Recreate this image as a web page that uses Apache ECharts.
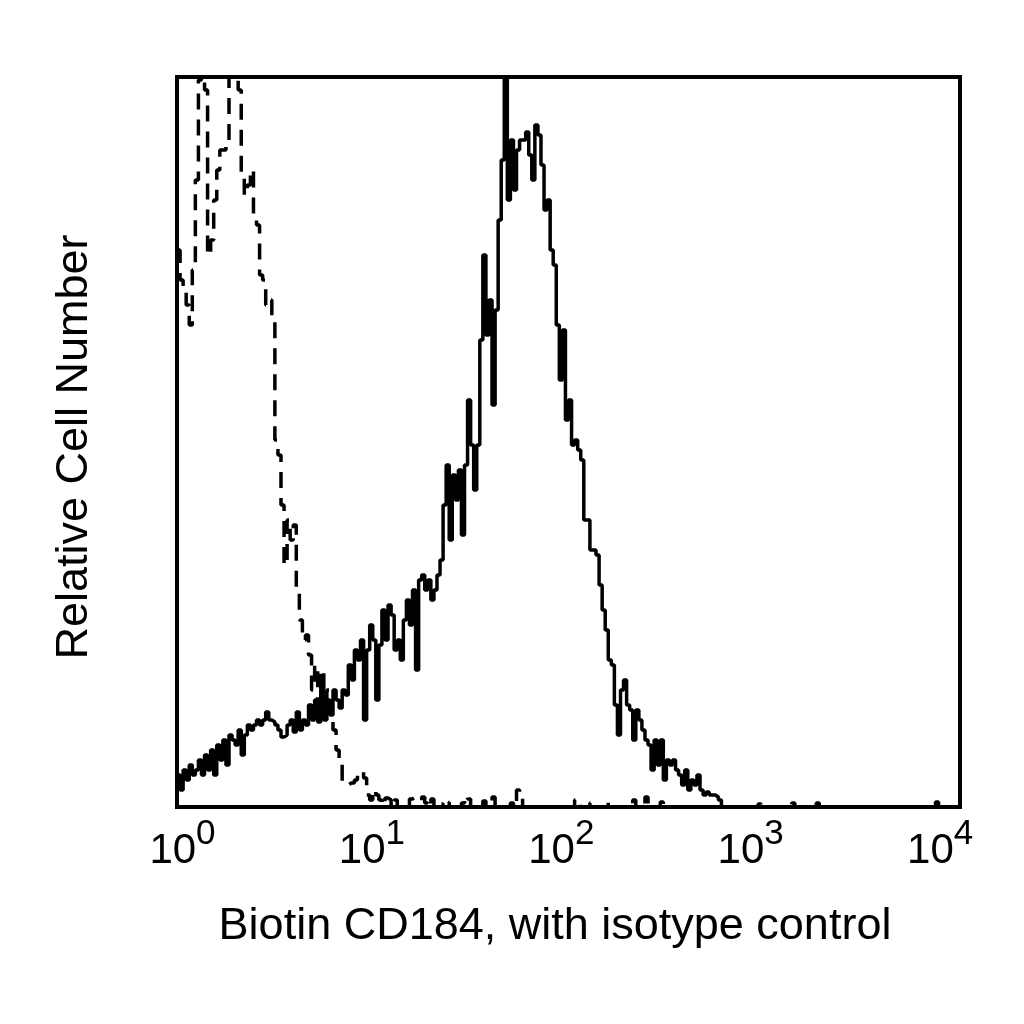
<!DOCTYPE html>
<html>
<head>
<meta charset="utf-8">
<script src="https://cdn.jsdelivr.net/npm/echarts@6/dist/echarts.min.js"></script>
<style>
  html, body { margin: 0; background: #fff; }
  #chart { width: 1024px; height: 1024px; }
</style>
</head>
<body>
<div id="chart"></div>
<script>
// 256 histogram channels spread over 4 log decades (10^0 .. 10^4)
const CHANNELS = 256;
const DECADES = [0, 1, 2, 3, 4];
const X_TITLE = "Biotin CD184, with isotype control";
const Y_TITLE = "Relative Cell Number";

// counts per channel
const cd184 = [
  32, 17, 37, 27, 42, 32, 37, 47, 32, 52, 37, 57, 32, 62, 47, 67,
  42, 72, 67, 62, 77, 52, 72, 82, 77, 82, 87, 82, 87, 95, 87, 85,
  82, 77, 70, 72, 82, 87, 75, 95, 77, 87, 82, 102, 87, 107, 85, 117,
  87, 107, 92, 117, 107, 99, 117, 112, 142, 127, 157, 147, 167, 87, 157, 182,
  167, 107, 162, 197, 167, 202, 192, 157, 167, 147, 187, 207, 182, 217, 137, 227,
  232, 217, 227, 207, 217, 232, 247, 302, 342, 267, 332, 307, 337, 272, 342, 407,
  362, 317, 362, 467, 552, 472, 507, 402, 497, 587, 647, 729, 607, 667, 617, 657,
  667, 667, 675, 652, 627, 682, 672, 642, 597, 607, 557, 542, 482, 427, 477, 387,
  407, 362, 367, 357, 347, 287, 287, 257, 257, 252, 222, 197, 177, 147, 142, 102,
  72, 117, 127, 102, 97, 67, 97, 87, 77, 67, 62, 37, 67, 42, 67, 27,
  47, 42, 47, 37, 32, 22, 37, 17, 27, 22, 32, 17, 12, 15, 12, 12,
  10, 7, 0, 0, 0, 0, 0, 0, 0, 0, 0, 0, 0, 0, 0, 0,
  0, 0, 0, 0, 0, 0, 0, 0, 0, 0, 0, 0, 0, 0, 0, 0,
  0, 0, 0, 0, 0, 0, 0, 0, 0, 0, 0, 0, 0, 0, 0, 0,
  0, 0, 0, 0, 0, 0, 0, 0, 0, 0, 0, 0, 0, 0, 0, 0,
  0, 0, 0, 0, 0, 0, 0, 0, 0, 0, 0, 0, 0, 0, 0, 0
];

const isotype = [
  557, 527, 517, 502, 482, 537, 627, 727, 747, 717, 552, 567, 607, 637, 657, 657,
  667, 737, 757, 747, 717, 632, 612, 622, 637, 592, 582, 532, 527, 502, 507, 487,
  367, 352, 302, 242, 287, 267, 282, 217, 187, 167, 172, 152, 117, 142, 102, 137,
  107, 117, 87, 77, 57, 45, 24, 22, 24, 24, 27, 32, 35, 29, 12, 7,
  17, 12, 7, 2, 9, 7, 0, 7, 0, 0, 3, 0, 8, 10, 8, 6,
  10, 4, 0, 8, 0, 0, 3, 0, 0, 5, 0, 0, 0, 4, 11, 8,
  0, 0, 0, 0, 6, 0, 0, 10, 0, 0, 0, 0, 0, 4, 0, 17,
  12, 0, 0, 0, 0, 0, 0, 0, 0, 0, 0, 0, 0, 0, 0, 0,
  0, 0, 7, 7, 0, 0, 0, 4, 0, 0, 0, 0, 0, 6, 0, 0,
  0, 0, 0, 0, 0, 7, 0, 0, 0, 10, 0, 0, 0, 0, 5, 0,
  0, 0, 0, 0, 0, 0, 0, 0, 0, 0, 0, 0, 0, 0, 0, 0,
  0, 0, 0, 0, 0, 0, 0, 0, 0, 0, 0, 0, 0, 0, 3, 0,
  0, 0, 0, 0, 0, 0, 0, 0, 0, 4, 0, 0, 0, 0, 0, 0,
  0, 4, 0, 0, 0, 0, 0, 0, 0, 0, 0, 0, 0, 0, 0, 0,
  0, 0, 0, 0, 0, 0, 0, 0, 0, 0, 0, 0, 0, 0, 0, 0,
  0, 0, 0, 0, 0, 0, 0, 0, 5, 0, 0, 0, 0, 0, 0, 0
];

const FONT = "'Liberation Sans', Arial, sans-serif";

// channel i covers [i, i+1]; add a closing point so the last bin gets its width
function toSteps(counts) {
  const pts = counts.map((v, i) => [i, v]);
  pts.push([counts.length, counts[counts.length - 1]]);
  return pts;
}

const chart = echarts.init(document.getElementById("chart"), null, { renderer: "canvas" });

const option = {
  animation: false,
  grid: {
    left: 177,
    right: 64,
    top: 77,
    bottom: 217,
    show: true,
    borderColor: "#000",
    borderWidth: 4,
  },
  xAxis: [
    // channel axis carrying the data
    { type: "value", min: 0, max: CHANNELS, show: false },
    // decade axis for the 10^n labels
    {
      type: "value",
      min: -0.029,
      max: 4.105,
      position: "bottom",
      axisLine: { show: false },
      axisTick: { show: false },
      splitLine: { show: false },
      axisLabel: {
        customValues: DECADES,
        margin: 17,
        formatter: (v) => `{b|10}{s|${v}}`,
        rich: {
          b: { fontSize: 42, lineHeight: 48, verticalAlign: "bottom", fontFamily: FONT, color: "#000" },
          // bottom padding lifts the exponent above the base line
          s: { fontSize: 35, lineHeight: 35, padding: [0, 0, 20, 0], verticalAlign: "bottom", fontFamily: FONT, color: "#000" },
        },
      },
      name: X_TITLE,
      nameLocation: "middle",
      nameGap: 97,
      nameTextStyle: { fontSize: 45, fontFamily: FONT, color: "#000", padding: [0, 27, 0, 0] },
    },
  ],
  yAxis: {
    type: "value",
    min: 0,
    max: 730,
    axisLine: { show: false },
    axisTick: { show: false },
    axisLabel: { show: false },
    splitLine: { show: false },
    name: Y_TITLE,
    nameLocation: "middle",
    nameGap: 80,
    nameTextStyle: { fontSize: 45, fontFamily: FONT, color: "#000", padding: [0, 10, 0, 0] },
  },
  series: [
    {
      name: "isotype control",
      type: "line",
      xAxisIndex: 0,
      step: "end",
      symbol: "none",
      data: toSteps(isotype),
      lineStyle: { color: "#000", width: 3.5, type: [16, 10] },
    },
    {
      name: "Biotin CD184",
      type: "line",
      xAxisIndex: 0,
      step: "end",
      symbol: "none",
      data: toSteps(cd184),
      lineStyle: { color: "#000", width: 3.5 },
    },
  ],
};

chart.setOption(option);
</script>
</body>
</html>
